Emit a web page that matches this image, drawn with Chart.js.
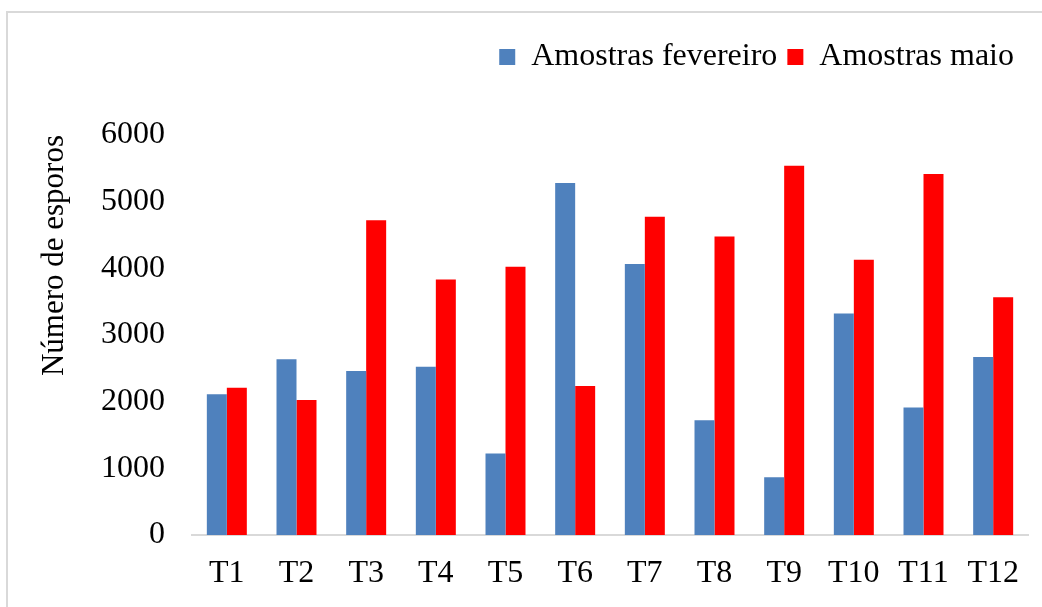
<!DOCTYPE html>
<html>
<head>
<meta charset="utf-8">
<script src="https://cdn.jsdelivr.net/npm/chart.js@4.4.0/dist/chart.umd.min.js"></script>
<style>
  html, body { margin: 0; padding: 0; background: #fff; }
  #wrap { position: relative; width: 1042px; height: 607px; overflow: hidden; }
  #frame { position: absolute; left: 6px; top: 11px; width: 2000px; height: 2000px;
           border-top: 2px solid #d9d9d9; border-left: 2px solid #d9d9d9; box-sizing: border-box; }
  #c { position: absolute; left: 0; top: 0; }
</style>
</head>
<body>
<div id="wrap">
  <div id="frame"></div>
  <canvas id="c" width="1042" height="607"></canvas>
</div>
<script>
const categories = ['T1','T2','T3','T4','T5','T6','T7','T8','T9','T10','T11','T12'];
const fevereiro = [2110, 2635, 2460, 2525, 1223, 5280, 4065, 1722, 865, 3323, 1911, 2669];
const maio      = [2210, 2025, 4720, 3832, 4022, 2235, 4775, 4476, 5539, 4127, 5414, 3567];
const seriesNames = ['Amostras fevereiro', 'Amostras maio'];
const yTitle = 'Número de esporos';
const yMin = 0, yMax = 6000, yStep = 1000;

const FONT = '"Liberation Serif", "Times New Roman", serif';
const LEGEND_H = 106;

const legendHeightPlugin = {
  id: 'legendHeight',
  beforeLayout(chart) {
    const lg = chart.legend;
    if (lg && !lg._patched) {
      const f = lg.fit;
      lg.fit = function () { f.call(this); this.height = LEGEND_H; };
      lg._patched = true;
    }
  },
  afterLayout(chart) {
    const lg = chart.legend;
    if (lg) { lg.left -= 4; lg.right -= 4; lg.top += 2; lg.bottom += 2; }
  }
};

new Chart(document.getElementById('c'), {
  type: 'bar',
  data: {
    labels: categories,
    datasets: [
      { label: seriesNames[0], data: fevereiro, backgroundColor: '#4f81bd', borderWidth: 0 },
      { label: seriesNames[1], data: maio, backgroundColor: '#ff0000', borderWidth: 0 }
    ]
  },
  options: {
    responsive: false,
    animation: false,
    devicePixelRatio: 1,
    layout: { padding: { left: 0, right: 14, top: 29, bottom: 0 } },
    datasets: { bar: { categoryPercentage: 0.574, barPercentage: 1.0 } },
    plugins: {
      legend: {
        position: 'top',
        align: 'end',
        labels: {
          boxWidth: 16, boxHeight: 16, padding: 10,
          color: '#000',
          font: { family: FONT, size: 32 }
        }
      },
      tooltip: { enabled: false }
    },
    scales: {
      x: {
        grid: { display: false, drawTicks: false },
        border: { display: true, color: '#d9d9d9', width: 2 },
        ticks: { color: '#000', padding: 19, font: { family: FONT, size: 32 }, maxRotation: 0, autoSkip: false },
        afterFit(s) { s.height = 72; }
      },
      y: {
        min: yMin, max: yMax,
        grid: { display: false, drawTicks: false },
        border: { display: false },
        ticks: { stepSize: yStep, color: '#000', padding: 27, font: { family: FONT, size: 32 },
                 callback: (v) => String(v) },
        title: {
          display: true, text: yTitle, color: '#000', align: 'end',
          font: { family: FONT, size: 31 }, padding: { top: 36, bottom: 0 }
        },
        afterFit(s) { s.width = 192; }
      }
    }
  },
  plugins: [legendHeightPlugin]
});
</script>
</body>
</html>
